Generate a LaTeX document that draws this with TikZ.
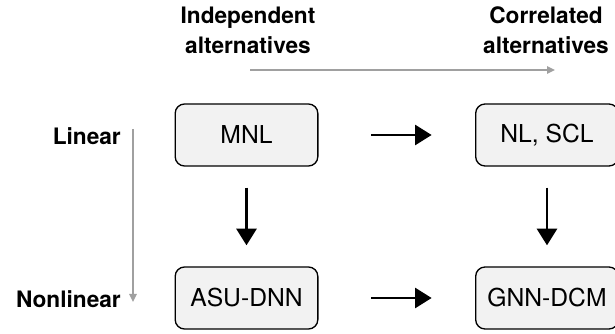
\documentclass[tikz,border=0pt]{standalone}
\usepackage{fontspec}
\setmainfont{TeX Gyre Heros}
\usepackage{tikz}
\usetikzlibrary{arrows.meta,positioning}
\definecolor{boxFill}{RGB}{242,242,242}
\definecolor{axisGray}{RGB}{160,160,160}

\tikzset{
  modelbox/.style={draw=black, line width=1pt, fill=boxFill, rounded corners=7pt,
    minimum width=107pt, minimum height=46.5pt, font=\fontsize{18.5pt}{20pt}\selectfont},
  axislabel/.style={font=\fontsize{17pt}{22.5pt}\selectfont\bfseries, align=center},
  bigarrow/.style={line width=2.2pt, -{Triangle[length=12.5pt,width=15pt]}},
  grayarrow/.style={draw=axisGray, line width=1.1pt, -{Triangle[length=6pt,width=5.5pt]}}
}

\begin{document}
\begin{tikzpicture}[x=0.75pt, y=-0.75pt]
\useasboundingbox (0,0) rectangle (615,334);

% column and row headings
\node[axislabel, anchor=base] (indep) at (248,54) {Independent\\alternatives};
\node[axislabel, anchor=base] (corr) at (546,54) {Correlated\\alternatives};
\node[axislabel, anchor=base east] (lin) at (125.5,145) {Linear};
\node[axislabel, anchor=base east] (nonlin) at (125.5,308) {Nonlinear};

% gray axes
\coordinate (hstart) at (250,70);
\coordinate (hend) at (555,70);
\coordinate (vstart) at (133,129);
\coordinate (vend) at (133,302);
\draw[grayarrow] (hstart) -- (hend);
\draw[grayarrow] (vstart) -- (vend);

% models
\node[modelbox] (mnl) at (246.5,135) {MNL};
\node[modelbox] (asu) at (246.5,298) {ASU-DNN};
\node[modelbox] (nl) at (547,135) {NL, SCL};
\node[modelbox] (gnn) at (547,298) {GNN-DCM};

\draw[bigarrow, shorten <=39.5pt, shorten >=32.5pt] (mnl) -- (nl);
\draw[bigarrow, shorten <=39.5pt, shorten >=32.5pt] (asu) -- (gnn);
\draw[bigarrow, shorten <=15.75pt, shorten >=15.75pt] (mnl) -- (asu);
\draw[bigarrow, shorten <=15.75pt, shorten >=15.75pt] (nl) -- (gnn);
\end{tikzpicture}
\end{document}
